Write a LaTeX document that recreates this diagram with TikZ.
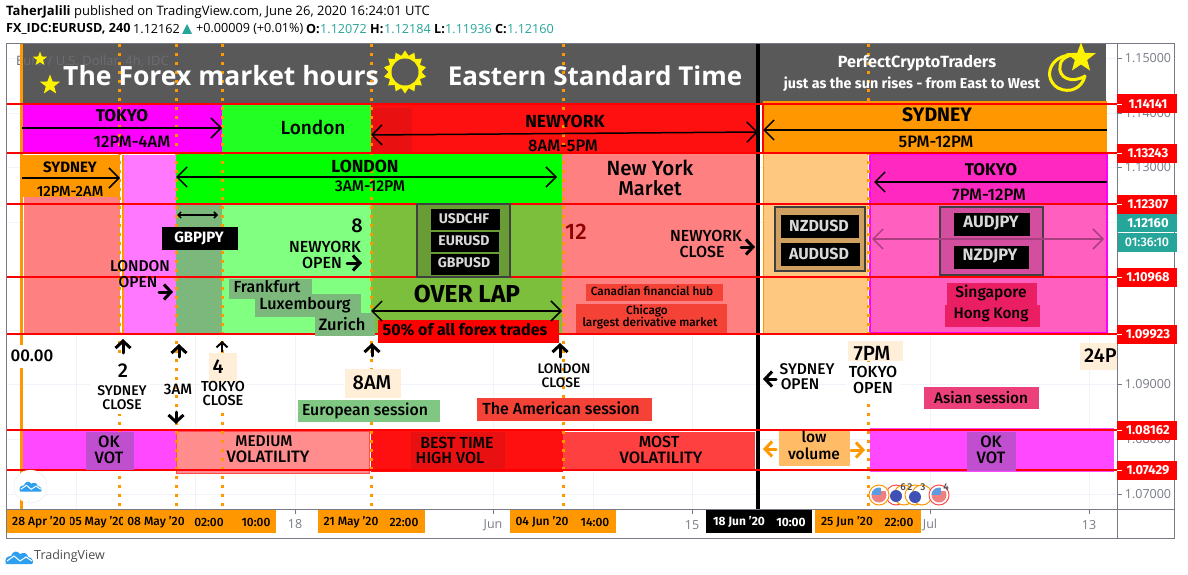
\documentclass[tikz,border=0pt]{standalone}
\usepackage{fontspec}
\setmainfont{Fira Sans}[UprightFont=* Medium,BoldFont=* Bold]
\newfontfamily\headfont{Open Sans}
\usetikzlibrary{arrows.meta,shapes.geometric}

\definecolor{hdgray}{HTML}{595959}
\definecolor{axgray}{HTML}{787B86}
\definecolor{gridline}{HTML}{F0F3FA}
\definecolor{teal}{HTML}{26A69A}
\definecolor{sess}{HTML}{FF9800}
\definecolor{paleorange}{HTML}{FFC880}
\definecolor{tomato}{HTML}{F44336}
\definecolor{salmon}{HTML}{FF8080}
\definecolor{purplebox}{HTML}{C04FD0}
\definecolor{peach}{HTML}{FFEED8}
\definecolor{tvblue}{HTML}{2E9EF0}
\definecolor{fuchsia}{HTML}{FF00FF}
\definecolor{palefuchsia}{HTML}{FF78FF}
\definecolor{bandfuchsia}{HTML}{FF48FF}
\definecolor{hotpink}{HTML}{FF28C0}
\definecolor{softpink}{HTML}{FF60C0}
\definecolor{nyred}{HTML}{FF1010}
\definecolor{nydark}{HTML}{E81010}
\definecolor{lime}{HTML}{22FF22}
\definecolor{sagegreen}{HTML}{7CB87C}
\definecolor{olive}{HTML}{7CBF3C}
\definecolor{oliveframe}{HTML}{6A9C36}
\definecolor{tanframe}{HTML}{CFA060}
\definecolor{pinkframe}{HTML}{D44EA0}
\definecolor{cityred}{HTML}{E91E63}
\definecolor{asianpink}{HTML}{EC407A}
\definecolor{eurogreen}{HTML}{81C784}
\definecolor{lowbox}{HTML}{FFBB66}
\definecolor{eublue}{HTML}{3F51B5}
\definecolor{usblue}{HTML}{5C9CE0}
\definecolor{usred}{HTML}{F08080}

\newcommand{\fs}[1]{\fontsize{#1}{#1}\selectfont}

\tikzset{
  lbl/.style={inner sep=0pt,font=\fs{#1}},
  lbl/.default=14,
  boldlbl/.style={inner sep=0pt,font=\fs{#1}\bfseries},
  pairlbl/.style={inner sep=0pt,text=black!15,font=\fs{#1}\bfseries},
  axlbl/.style={inner sep=0pt,text=axgray,font=\headfont\fs{12.5}},
  datelbl/.style={inner sep=0pt,text=black,font=\fs{12}},
  pricelbl/.style={inner sep=0pt,text=white,font=\fs{13}\bfseries},
  hourline/.style={sess,line width=3pt,dash pattern=on 3pt off 6pt},
  redline/.style={red,line width=1.5pt},
  span/.style={line width=1.5pt,>={Straight Barb[length=10pt,width=20pt]}},
  fatarrow/.style={line width=3pt,line cap=round,>={Straight Barb[length=7pt,width=15pt]}},
  tvcloud/.pic={
    \fill[tvblue] (0,14) .. controls (-2,9) and (1,6) .. (5,6) .. controls (6,1) and (12,0) .. (14,4)
      .. controls (17,2) and (22,3) .. (22,7) .. controls (27,7) and (28,13) .. (26,14) -- cycle;
    \draw[white,line width=1pt] (1,11) -- (8,6) -- (14,11) -- (20,7) -- (26,11);
  }
}

\begin{document}
\begin{tikzpicture}[x=1pt,y=-1pt]
  \useasboundingbox (0,0) rectangle (1188,575);
  \fill[white] (0,0) rectangle (1188,575);

  % top lines
  \node[inner sep=0pt,anchor=west,font=\headfont\fs{13}] (author) at (6,12) {\textbf{TaherJalili} published on TradingView.com, June 26, 2020 16:24:01 UTC};
  \node[inner sep=0pt,anchor=west,font=\headfont\fs{12.6}\bfseries] (symbol) at (6,29) {FX\_IDC:EURUSD, 240};
  \node[inner sep=0pt,anchor=west,font=\headfont\fs{12.6}] (lastprice) at (133,29) {1.12162};
  \fill[teal] (182,34) -- (187,24) -- (192,34) -- cycle;
  \node[inner sep=0pt,anchor=west,font=\headfont\fs{12.6}] (change) at (196,29) {+0.00009 (+0.01\%)};
  \node[inner sep=0pt,anchor=west,font=\headfont\fs{12.6}\bfseries] (olbl) at (306,29) {O:};
  \node[inner sep=0pt,anchor=west,text=teal,font=\headfont\fs{12.6}] (oval) at (320,29) {1.12072};
  \node[inner sep=0pt,anchor=west,font=\headfont\fs{12.6}\bfseries] (hlbl) at (370,29) {H:};
  \node[inner sep=0pt,anchor=west,text=teal,font=\headfont\fs{12.6}] (hval) at (384,29) {1.12184};
  \node[inner sep=0pt,anchor=west,font=\headfont\fs{12.6}\bfseries] (llbl) at (434,29) {L:};
  \node[inner sep=0pt,anchor=west,text=teal,font=\headfont\fs{12.6}] (lval) at (445,29) {1.11936};
  \node[inner sep=0pt,anchor=west,font=\headfont\fs{12.6}\bfseries] (clbl) at (495,29) {C:};
  \node[inner sep=0pt,anchor=west,text=teal,font=\headfont\fs{12.6}] (cval) at (507,29) {1.12160};

  % grid
  \foreach \x in {76,195,295,493,593,692,930,1089}
    \draw[gridline] (\x,44) -- (\x,509);
  \foreach \y in {58,113,167,222,276,330,384,439,494}
    \draw[gridline] (7,\y) -- (1117,\y);

  % frame
  \draw[axgray,line width=1pt] (6.5,43.5) rectangle (1174.5,538);
  \draw[axgray,line width=1pt] (1117.5,43.5) -- (1117.5,538);
  \draw[axgray,line width=1pt] (6.5,509.5) -- (1174.5,509.5);
  \foreach \y in {58,113,167,384,439,494}
    \draw[axgray] (1117,\y) -- (1122,\y);
  \foreach \x in {295,493,692,930,1089}
    \draw[axgray] (\x,509) -- (\x,514);

  % axis prices
  \node[axlbl] (p150) at (1148,58) {1.15000};
  \node[axlbl] (p140) at (1148,113) {1.14000};
  \node[axlbl] (p130) at (1148,167) {1.13000};
  \node[axlbl] (p090) at (1148,384) {1.09000};
  \node[axlbl] (p080) at (1148,439) {1.08000};
  \node[axlbl] (p070) at (1148,494) {1.07000};

  % header
  \fill[hdgray] (22,44) rectangle (758,104);
  \fill[hdgray] (758,44) rectangle (1106,104);
  \node[inner sep=0pt,anchor=west,text=axgray!60!hdgray,font=\headfont\fs{13}] (symboltitle) at (16,61) {Euro / U.S. Dollar, 4h, IDC};

  % row 1
  \fill[fuchsia] (22,104) rectangle (222,153);
  \fill[lime] (222,105) rectangle (371,153);
  \fill[nyred] (371,104) rectangle (758,153);
  \fill[nydark] (371,108) rectangle (412,153);
  \fill[sess] (763,101) rectangle (1107,153);

  % row 2 and body
  \fill[salmon] (24,197) rectangle (120,334);
  \fill[palefuchsia] (123,155) rectangle (176,334);
  \fill[sess] (20,155) rectangle (120,197);
  \fill[green] (176,153) rectangle (562,204);
  \fill[sagegreen] (176,204) rectangle (222,334);
  \fill[green!50!white] (222,204) rectangle (371,334);
  \fill[olive] (371,204) rectangle (562,334);
  \fill[salmon] (562,153) rectangle (758,334);
  \fill[paleorange] (763,153) rectangle (868,333);
  \draw[sess,line width=1pt] (763,153) -- (763,333) -- (868,333);
  \fill[hotpink] (870,154) rectangle (1107,204);
  \fill[softpink] (870,204) rectangle (1107,333);
  \draw[fuchsia,line width=1.5pt] (870,154) rectangle (1107,333);

  % bottom band
  \fill[bandfuchsia] (20,430) rectangle (176,469);
  \draw[fuchsia!80!white,line width=1pt] (20,429) rectangle (176,469);
  \fill[salmon!90!white] (176,431) rectangle (369,473);
  \draw[red!70!white,line width=1pt] (176,431) rectangle (369,473);
  \fill[nyred] (371,430) rectangle (563,472);
  \fill[nydark] (411,432) rectangle (505,469);
  \fill[red!75!white] (563,432) rectangle (755,470);
  \fill[lowbox] (779,429) rectangle (850,466);
  \fill[bandfuchsia] (870,428) rectangle (1114,472);

  % hour lines
  \draw[sess,line width=3pt] (21,44) -- (21,509);
  \draw[sess,line width=2pt] (123,155) -- (123,334);
  \draw[hourline] (119.5,44) -- (119.5,509);
  \draw[hourline] (176.5,44) -- (176.5,509);
  \draw[hourline] (222.5,44) -- (222.5,509);
  \draw[hourline] (371.5,44) -- (371.5,509);
  \draw[hourline] (563.5,44) -- (563.5,509);
  \draw[hourline] (868.5,44) -- (868.5,509);
  \draw[black,line width=4pt] (758,44) -- (758,509);

  % price lines
  \foreach \y in {104,153,204,277,334,430,470}
    \draw[redline] (7,\y) -- (1117,\y);
  \draw[redline] (763,104) -- (763,153);

  % price tags
  \foreach \y/\v in {104/1.14141,153/1.13243,204/1.12307,277/1.10968,334/1.09923,430/1.08162,470/1.07429} {
    \fill[red] (1117,\y-9.5) rectangle (1177,\y+9.5);
    \draw[white] (1117,\y) -- (1122,\y);
    \node[pricelbl] at (1148,\y) {\v};
  }
  \fill[teal] (1117,214) rectangle (1177,232);
  \fill[teal] (1118,233) rectangle (1177,252);
  \node[pricelbl] (pnow) at (1148,223) {1.12160};
  \node[pricelbl,font=\fs{12.5}] (timer) at (1147,242.5) {01:36:10};

  % title
  \node[inner sep=0pt,text=white,font=\headfont\fs{26.5}\bfseries] (title) at (221,76) {The Forex market hours};
  \node[inner sep=0pt,text=white,font=\headfont\fs{26}\bfseries] (zone) at (595,76) {Eastern Standard Time};
  \node[star,star points=5,star point ratio=2.4,fill=yellow,inner sep=0pt,minimum size=15pt] (star1) at (40,59) {};
  \node[star,star points=5,star point ratio=2.4,fill=yellow,inner sep=0pt,minimum size=21pt] (star2) at (50,85) {};
  \node[star,star points=14,star point ratio=1.3,fill=yellow,inner sep=0pt,minimum size=43pt] (sun) at (405,72) {};
  \node[circle,fill=hdgray,inner sep=0pt,minimum size=27pt] (suncore) at (405,72) {};
  \node[boldlbl=16.2,text=white] (brand) at (917,63) {PerfectCryptoTraders};
  \node[boldlbl=14.3,text=white] (motto) at (912,84) {just as the sun rises - from East to West};
  \draw[yellow,line width=3pt,line join=round] (1072,55) .. controls (1050,55) and (1042,78) .. (1058,88)
    .. controls (1070,94) and (1082,88) .. (1085,76) .. controls (1072,84) and (1058,78) .. (1060,66)
    .. controls (1060,60) and (1066,56) .. cycle;
  \node[star,star points=5,star point ratio=2.4,fill=yellow,inner sep=0pt,minimum size=31pt] (moonstar) at (1081,58) {};

  % session heads
  \node[boldlbl=17] (tokyoa) at (122,116) {TOKYO};
  \node[lbl=16.6] (tokyoatime) at (132,142) {12PM-4AM};
  \draw[span,->] (22,128) -- (222,128);
  \node[lbl=19] (london) at (313,127) {London};
  \node[boldlbl=17.5] (nywork) at (565,121) {NEWYORK};
  \node[lbl=16.6] (nytime) at (563,146) {8AM-5PM};
  \draw[span,<->] (371,135) -- (758,132);
  \node[boldlbl=19.5] (sydneyb) at (937,115) {SYDNEY};
  \node[lbl=16.6] (sydneybtime) at (936,142) {5PM-12PM};
  \draw[span,->] (1107,130) -- (763,130);
  \node[boldlbl=15] (sydneya) at (70,167) {SYDNEY};
  \node[lbl=14.7] (sydneyatime) at (70,191) {12PM-2AM};
  \draw[span,->] (22,178) -- (120,178);
  \node[boldlbl=17.5] (londonb) at (365,166) {LONDON};
  \node[lbl=15.6] (londonbtime) at (370,186) {3AM-12PM};
  \draw[span,<->] (176,177) -- (557,177);
  \node[lbl=20.5] (nymarket) at (650,168) {New York};
  \node[lbl=20] (nymarket2) at (650,188) {Market};
  \node[boldlbl=17] (tokyob) at (991,170) {TOKYO};
  \node[lbl=16.6] (tokyobtime) at (989,195) {7PM-12PM};
  \draw[span,->] (1107,182) -- (874,182);

  % pair boxes
  \draw[black!75,fill=oliveframe,line width=1.5pt] (417,204) rectangle (510,277);
  \fill[black] (431,209) rectangle (500,230);
  \fill[black] (431,232) rectangle (499,252);
  \fill[black] (431,254) rectangle (499,275);
  \node[pairlbl=14] (usdchf) at (464,219) {USDCHF};
  \node[pairlbl=14] (eurusd) at (464,241) {EURUSD};
  \node[pairlbl=14] (gbpusd) at (464,263) {GBPUSD};
  \draw[black!75,fill=tanframe,line width=1.5pt] (775,207) rectangle (865,271);
  \fill[black] (781,215) rectangle (859,238);
  \fill[black] (781,243) rectangle (860,266);
  \node[pairlbl=16] (nzdusd) at (819,226) {NZDUSD};
  \node[pairlbl=16] (audusd) at (819,254) {AUDUSD};
  \draw[black!75,fill=pinkframe,line width=1.5pt] (940,207) rectangle (1043,275);
  \fill[black] (954,213) rectangle (1030,236);
  \fill[black] (954,246) rectangle (1029,269);
  \node[pairlbl=16.5] (audjpy) at (991,223) {AUDJPY};
  \node[pairlbl=16.5] (nzdjpy) at (990,256) {NZDJPY};
  \draw[span,<->,pinkframe!80!black] (872,239) -- (1104,239);
  \fill[black] (162,227) rectangle (238,250);
  \node[boldlbl=15,text=white] (gbpjpy) at (199,238) {GBPJPY};
  \draw[line width=1.5pt,<->,>={Straight Barb[length=3pt,width=6pt]}] (177,215) -- (218,215);

  % opens
  \node[lbl=20] (eight) at (357,226) {8};
  \node[lbl=16] (nyopen) at (325,247) {NEWYORK};
  \node[lbl=16] (nyopen2) at (322,263) {OPEN};
  \draw[fatarrow,->] (347,263) -- (362,263);
  \node[lbl=15.6] (londonopen) at (140,266) {LONDON};
  \node[lbl=15.6] (londonopen2) at (138,282) {OPEN};
  \draw[fatarrow,->] (159,292) -- (173,292);
  \node[lbl=22.5,text=red!55!black] (twelve) at (576,232) {12};
  \node[lbl=16] (nyclose) at (706,236) {NEWYORK};
  \node[lbl=16] (nyclose2) at (702,252) {CLOSE};
  \draw[fatarrow,->] (741,247) -- (755,247);

  % centres
  \fill[sagegreen] (229,279) rectangle (312,299);
  \node[lbl=16] (frankfurt) at (267,287) {Frankfurt};
  \fill[sagegreen] (255,294) rectangle (361,317);
  \node[lbl=16.2] (luxembourg) at (305,305) {Luxembourg};
  \fill[sagegreen] (315,313) rectangle (375,336);
  \node[lbl=16.5] (zurich) at (342,324) {Zurich};
  \fill[red] (378,320) rectangle (559,343);
  \node[boldlbl=16] (share) at (465,330) {50\% of all forex trades};
  \node[boldlbl=24.5] (overlap) at (467,294) {OVER LAP};
  \draw[span,<->] (371,311) -- (562,311);
  \fill[tomato] (586,284) rectangle (723,301);
  \node[lbl=11.8] (canada) at (652,291) {Canadian financial hub};
  \fill[tomato] (576,304) rectangle (727,333);
  \node[lbl=11.8] (chicago) at (647,311) {Chicago};
  \node[lbl=11.8] (chicago2) at (650,323) {largest derivative market};
  \fill[cityred] (947,283) rectangle (1037,305);
  \fill[cityred] (945,305) rectangle (1040,327);
  \node[lbl=15.6] (singapore) at (991,293) {Singapore};
  \node[lbl=15.2] (hongkong) at (991,315) {Hong Kong};

  % below the price lines
  \fill[white] (8,345) rectangle (56,368);
  \node[lbl=17] (midnight) at (32,356) {00.00};
  \fill[white] (90,358) rectangle (150,414);
  \node[lbl=20] (two) at (123,371) {2};
  \node[lbl=14] (sydclose) at (122,391) {SYDNEY};
  \node[lbl=14] (sydclose2) at (122,405) {CLOSE};
  \node[lbl=15] (threeam) at (178,389) {3AM};
  \fill[white] (200,382) rectangle (247,408);
  \fill[peach] (209,353) rectangle (237,382);
  \node[lbl=20] (four) at (218,367) {4};
  \node[lbl=14.5] (tokclose) at (223,386) {TOKYO};
  \node[lbl=14.5] (tokclose2) at (223,400) {CLOSE};
  \fill[peach] (345,369) rectangle (401,398);
  \node[lbl=20] (eightam) at (372,383) {8AM};
  \node[lbl=13.8] (lonclose) at (564,369) {LONDON};
  \node[lbl=13.8] (lonclose2) at (561,383) {CLOSE};
  \node[lbl=15.5] (sydopen) at (807,369) {SYDNEY};
  \node[lbl=15.5] (sydopen2) at (800,384) {OPEN};
  \fill[peach] (848,341) rectangle (903,361);
  \node[lbl=20.5] (sevenpm) at (872,354) {7PM};
  \fill[white] (846,363) rectangle (900,404);
  \node[lbl=16] (tokopen) at (873,372) {TOKYO};
  \node[lbl=16] (tokopen2) at (873,388) {OPEN};
  \fill[peach] (1080,343) rectangle (1117,370);
  \begin{scope}
    \clip (1080,340) rectangle (1117,372);
    \node[lbl=20,anchor=west] (endhour) at (1084,356) {24P};
  \end{scope}
  \draw[fatarrow,->] (123,353) -- (123,339);
  \draw[fatarrow,->] (179,357) -- (179,344);
  \draw[line width=2pt,->,>={Straight Barb[length=5pt,width=11pt]}] (222,352) -- (222,341);
  \draw[fatarrow,->] (372,356) -- (372,343);
  \draw[fatarrow,->] (560,357) -- (560,343);
  \draw[fatarrow,->] (176,412) -- (176,424);
  \draw[fatarrow,->] (776,379) -- (763,379);

  % session names
  \fill[eurogreen] (298,400) rectangle (440,422);
  \node[lbl=15.8] (european) at (365,411) {European session};
  \fill[tomato] (477,398) rectangle (652,421);
  \node[lbl=16] (american) at (561,408) {The American session};
  \fill[asianpink] (924,387) rectangle (1039,409);
  \node[lbl=15.3] (asian) at (981,398) {Asian session};

  % band labels
  \fill[purplebox] (86,432) rectangle (134,470);
  \node[lbl=16.5] (oka) at (109,442) {OK};
  \node[lbl=16.5] (vota) at (109,458) {VOT};
  \node[lbl=15.5] (medium) at (264,441) {MEDIUM};
  \node[lbl=16.5] (volb) at (268,457) {VOLATILITY};
  \node[lbl=16] (besttime) at (457,443) {BEST TIME};
  \node[lbl=16] (highvol) at (450,458) {HIGH VOL};
  \node[lbl=16] (most) at (659,442) {MOST};
  \node[lbl=16.5] (volc) at (661,458) {VOLATILITY};
  \node[lbl=15.5] (low) at (814,437) {low};
  \node[lbl=15.5] (volume) at (814,454) {volume};
  \draw[fatarrow,->,sess] (776,449) -- (763,449);
  \draw[fatarrow,->,sess] (851,450) -- (865,450);
  \fill[purplebox] (967,432) rectangle (1016,471);
  \node[lbl=16.5] (okb) at (991,442) {OK};
  \node[lbl=16.5] (votb) at (991,458) {VOT};

  % logo in the chart
  \node[circle,fill=white,draw=black!8,inner sep=0pt,minimum size=33pt] (logoround) at (30.5,486.5) {};
  \pic[scale=.8] at (20,480.5) {tvcloud};

  % events
  \foreach \x/\c in {896/red!70!white,904/sess,915/sess,922/sess,879/sess,939/red!70!white} {
    \draw[\c,line width=1pt,fill=white] (\x,495) circle (10);
  }
  \begin{scope}
    \clip (879,495) circle (7.5) (939,495) circle (7.5);
    \fill[usred] (870,491) rectangle (949,504);
    \fill[usblue] (870,487) rectangle (881,495);
    \fill[usblue] (930,487) rectangle (941,495);
  \end{scope}
  \fill[eublue] (896,496) circle (6);
  \fill[eublue] (915,497) circle (6);
  \node[lbl=10,text=black!70] (evsix) at (903,487) {6};
  \node[lbl=10,text=black!70] (evtwo) at (910,487) {2};
  \node[lbl=10,text=black!70] (evthree) at (923,487) {3};
  \node[lbl=10,text=black!70] (evfour) at (946,487) {4};

  % time axis
  \fill[sess] (7,510) rectangle (276,533);
  \fill[sess] (318,510) rectangle (425,533);
  \fill[sess] (510,510) rectangle (616,533);
  \fill[black] (706,510) rectangle (812,533);
  \fill[sess] (815,510) rectangle (921,533);
  \node[datelbl] (date1) at (39,522) {28 Apr '20};
  \begin{scope}
    \clip (70,510) rectangle (122,533);
    \node[datelbl] (date2) at (97,522) {05 May '20};
  \end{scope}
  \node[datelbl] (date3) at (156,522) {08 May '20};
  \node[datelbl] (time1) at (209,522) {02:00};
  \node[datelbl] (time2) at (256,522) {10:00};
  \node[axlbl] (tick18) at (295,524.5) {18};
  \node[datelbl] (date4) at (351,522) {21 May '20};
  \node[datelbl] (time3) at (404,522) {22:00};
  \node[axlbl] (tickjun) at (493,525) {Jun};
  \node[datelbl] (date5) at (542,522) {04 Jun '20};
  \node[datelbl] (time4) at (595,522) {14:00};
  \node[axlbl] (tick15) at (692,525) {15};
  \node[datelbl,text=white,font=\fs{12}\bfseries] (date6) at (739,522) {18 Jun '20};
  \node[datelbl,text=white,font=\fs{12}\bfseries] (time5) at (791,522) {10:00};
  \node[datelbl] (date7) at (847,522) {25 Jun '20};
  \node[datelbl] (time6) at (899,522) {22:00};
  \node[axlbl] (tickjul) at (930,525) {Jul};
  \node[axlbl] (tick13) at (1089,525) {13};

  % footer
  \pic at (6,550) {tvcloud};
  \node[inner sep=0pt,anchor=west,text=black!70,font=\headfont\fs{12.5}] (footer) at (34,556.5) {TradingView};
\end{tikzpicture}
\end{document}
